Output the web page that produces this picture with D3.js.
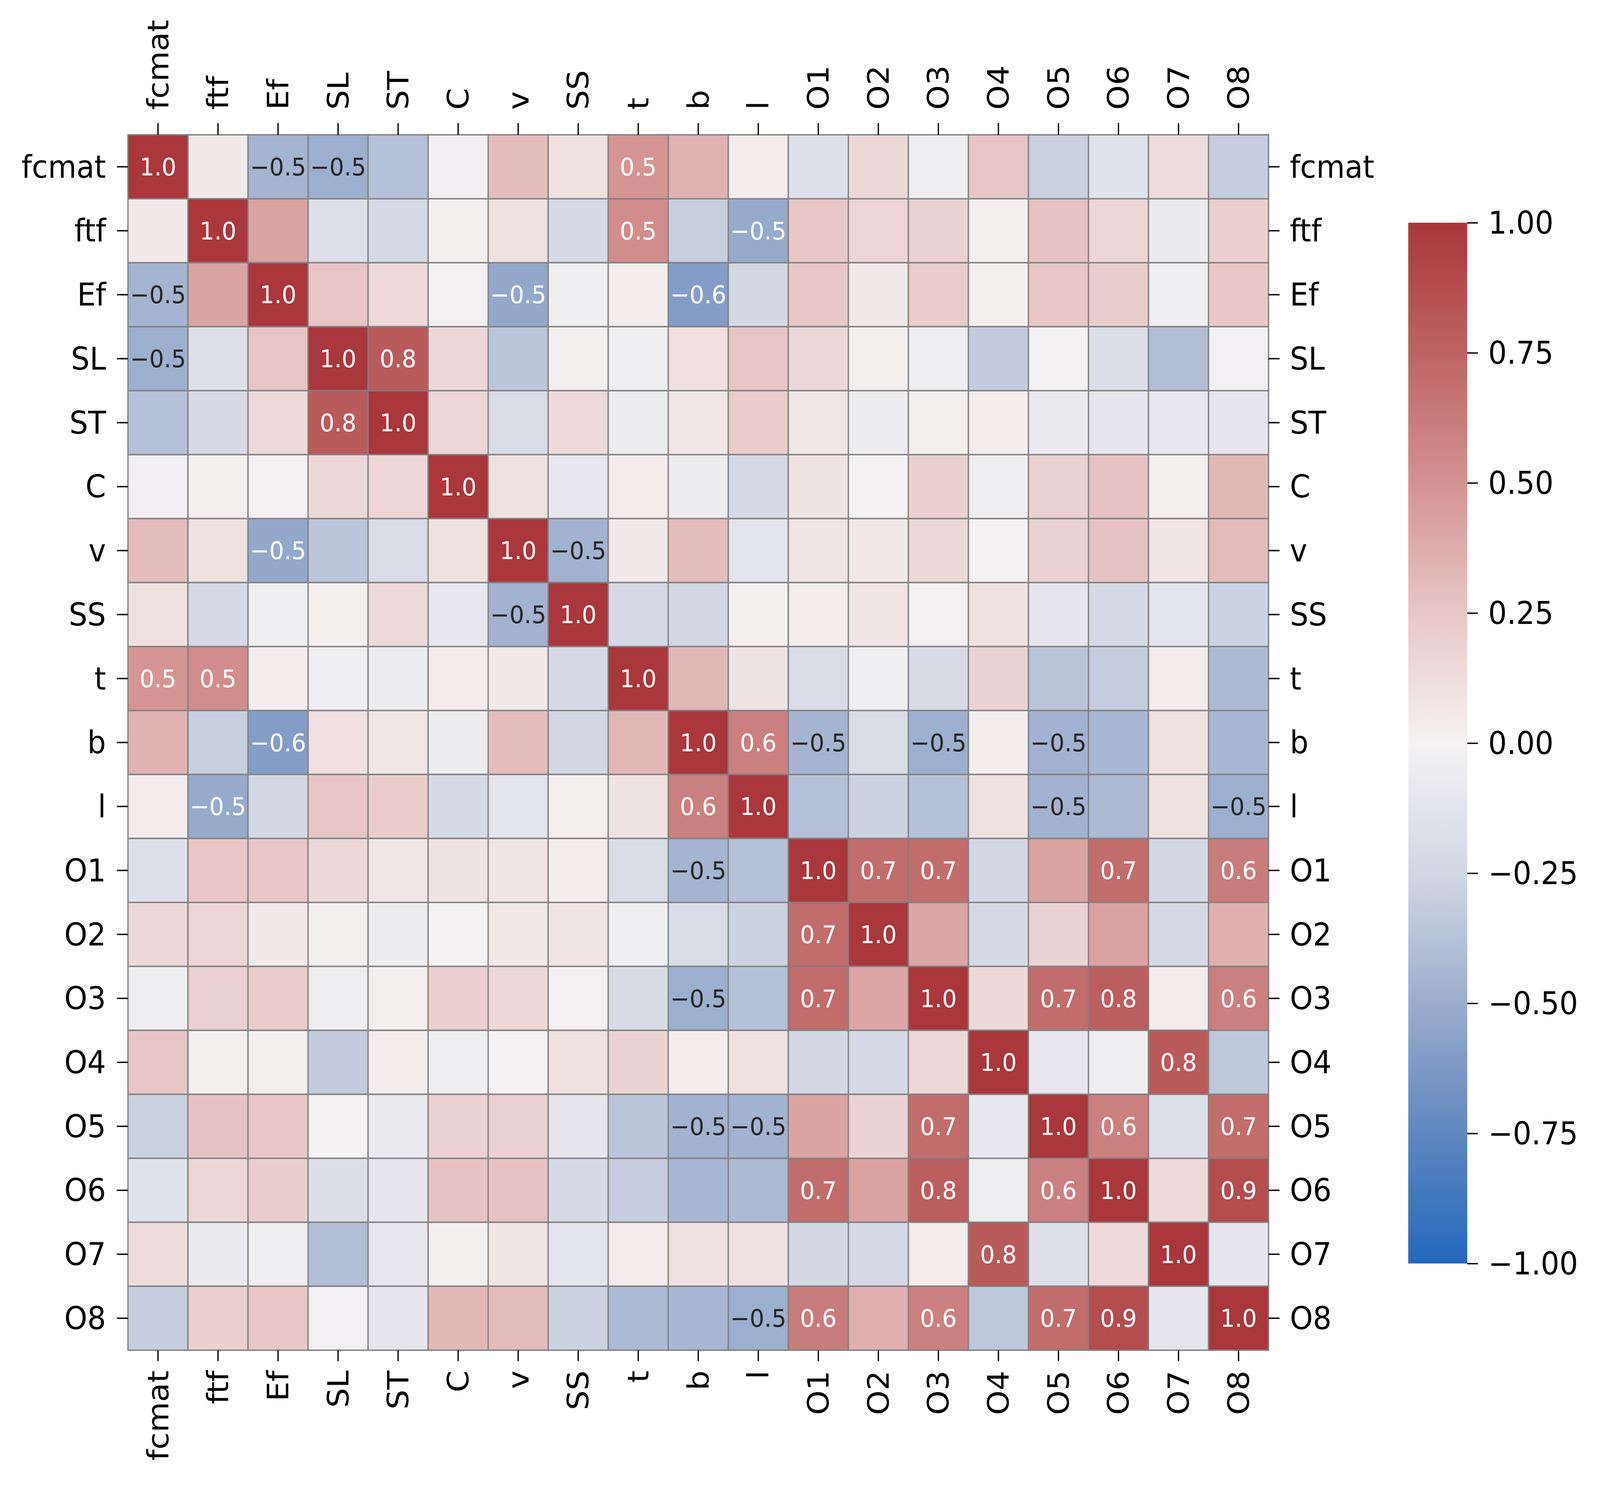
<!DOCTYPE html>
<html>
<head>
<meta charset="utf-8">
<script src="https://cdn.jsdelivr.net/npm/d3@7"></script>
<style>
  html, body { margin: 0; padding: 0; background: #ffffff; width: 100%; height: 100%; overflow: hidden; }
  svg { display: block; width: 100vw; height: 100vh; }
  text { font-family: "DejaVu Sans", sans-serif; }
</style>
</head>
<body>
<svg id="chart" viewBox="0 0 4364 3801" preserveAspectRatio="none"></svg>
<script>
// ---------- DATA ----------
const labels = ["fcmat","ftf","Ef","SL","ST","C","v","SS","t","b","l","O1","O2","O3","O4","O5","O6","O7","O8"];

// Upper triangle of the correlation matrix: values to the right of the diagonal, row by row
const upper_fcmat = [0.05,-0.46,-0.49,-0.38,-0.03,0.30,0.10,0.49,0.35,0.04,-0.17,0.15,-0.05,0.26,-0.29,-0.15,0.13,-0.31];
const upper_ftf   = [0.42,-0.17,-0.22,0.02,0.10,-0.22,0.53,-0.30,-0.52,0.25,0.17,0.19,0.02,0.27,0.16,-0.07,0.20];
const upper_Ef    = [0.26,0.14,0.01,-0.53,-0.04,0.03,-0.60,-0.24,0.25,0.05,0.22,0.02,0.25,0.21,-0.04,0.25];
const upper_SL    = [0.80,0.15,-0.35,0.02,-0.04,0.11,0.26,0.15,0.02,-0.05,-0.32,-0.01,-0.18,-0.40,-0.02];
const upper_ST    = [0.17,-0.20,0.14,-0.06,0.07,0.22,0.07,-0.06,0.02,0.03,-0.07,-0.11,-0.10,-0.11];
const upper_C     = [0.10,-0.10,0.04,-0.06,-0.22,0.09,0.00,0.20,-0.05,0.19,0.27,0.02,0.32];
const upper_v     = [-0.47,0.05,0.30,-0.12,0.08,0.06,0.15,0.00,0.19,0.27,0.08,0.31];
const upper_SS    = [-0.23,-0.25,0.02,0.03,0.08,0.01,0.10,-0.11,-0.22,-0.12,-0.28];
const upper_t     = [0.32,0.09,-0.20,-0.04,-0.21,0.18,-0.36,-0.31,0.04,-0.42];
const upper_b     = [0.60,-0.46,-0.20,-0.49,0.03,-0.47,-0.44,0.10,-0.44];
const upper_l     = [-0.38,-0.28,-0.38,0.10,-0.47,-0.42,0.10,-0.49];
const upper_O1    = [0.70,0.70,-0.24,0.42,0.70,-0.24,0.62];
const upper_O2    = [0.41,-0.23,0.18,0.43,-0.23,0.36];
const upper_O3    = [0.15,0.70,0.78,0.04,0.60];
const upper_O4    = [-0.10,-0.05,0.80,-0.34];
const upper_O5    = [0.60,-0.17,0.70];
const upper_O6    = [0.14,0.88];
const upper_O7    = [-0.11];
const upper_O8    = [];
const diagonalValue = 1.0;

const colorbarTicks = [-1,-0.75,-0.5,-0.25,0,0.25,0.5,0.75,1];

// ---------- BUILD MATRIX ----------
const upperRows = [upper_fcmat,upper_ftf,upper_Ef,upper_SL,upper_ST,upper_C,upper_v,upper_SS,upper_t,
  upper_b,upper_l,upper_O1,upper_O2,upper_O3,upper_O4,upper_O5,upper_O6,upper_O7,upper_O8];
const n = labels.length;
const M = Array.from({length:n}, () => new Array(n).fill(0));
for (let i = 0; i < n; i++) {
  M[i][i] = diagonalValue;
  upperRows[i].forEach((val, k) => { const j = i + 1 + k; M[i][j] = val; M[j][i] = val; });
}
const cells = [];
for (let i = 0; i < n; i++) for (let j = 0; j < n; j++) cells.push({row: labels[i], col: labels[j], value: M[i][j]});

// ---------- LAYOUT ----------
const svg = d3.select("#chart");
const x0 = 349, y0 = 345, size = 3111;
const fontSize = 80, annotSize = 63;
const x = d3.scaleBand().domain(labels).range([x0, x0 + size]);
const y = d3.scaleBand().domain(labels).range([y0, y0 + size]);

// vlag-like diverging colormap
const color = d3.scaleLinear()
  .domain([-1,-0.75,-0.5,-0.25,0,0.25,0.5,0.75,1])
  .range(["rgb(35,105,189)","rgb(96,134,190)","rgb(155,173,205)","rgb(210,215,228)","rgb(245,242,243)",
          "rgb(232,199,198)","rgb(211,147,146)","rgb(189,100,99)","rgb(169,55,59)"])
  .interpolate(d3.interpolateRgb)
  .clamp(true);

function relLum(c) {
  const rgb = d3.rgb(c);
  const f = v => { v /= 255; return v <= 0.03928 ? v / 12.92 : Math.pow((v + 0.055) / 1.055, 2.4); };
  return 0.2126 * f(rgb.r) + 0.7152 * f(rgb.g) + 0.0722 * f(rgb.b);
}

// ---------- CELLS ----------
svg.append("g").selectAll("rect").data(cells).join("rect")
  .attr("x", d => x(d.col)).attr("y", d => y(d.row))
  .attr("width", x.bandwidth()).attr("height", y.bandwidth())
  .attr("fill", d => color(d.value))
  .attr("stroke", "#808080").attr("stroke-width", 3.5);

// ---------- ANNOTATIONS ----------
const fmt = d3.format(".1f");
svg.append("g").selectAll("text").data(cells.filter(d => Math.abs(d.value) >= 0.45)).join("text")
  .attr("x", d => x(d.col) + x.bandwidth() / 2)
  .attr("y", d => y(d.row) + y.bandwidth() / 2)
  .attr("text-anchor", "middle")
  .attr("dominant-baseline", "central")
  .attr("font-size", annotSize)
  .attr("fill", d => relLum(color(d.value)) > 0.408 ? "#262626" : "#ffffff")
  .text(d => fmt(d.value));

// ---------- AXES ----------
function styleAxis(g) {
  g.select(".domain").remove();
  g.selectAll(".tick line").attr("stroke", "#000").attr("stroke-width", 3.5);
  g.selectAll(".tick text").attr("font-size", fontSize).attr("fill", "#000")
    .attr("font-family", "DejaVu Sans, sans-serif");
}
svg.append("g").attr("transform", `translate(${x0},0)`)
  .call(d3.axisLeft(y).tickSize(30).tickPadding(30))
  .call(styleAxis)
  .call(g => g.selectAll(".tick text").attr("dy", null).attr("dominant-baseline", "central"));

svg.append("g").attr("transform", `translate(${x0 + size},0)`)
  .call(d3.axisRight(y).tickSize(30).tickPadding(28))
  .call(styleAxis)
  .call(g => g.selectAll(".tick text").attr("dy", null).attr("dominant-baseline", "central"));

svg.append("g").attr("transform", `translate(0,${y0})`)
  .call(d3.axisTop(x).tickSize(30))
  .call(styleAxis)
  .call(g => g.selectAll(".tick text")
    .attr("transform", "rotate(-90)").attr("x", 64).attr("y", 0).attr("dy", null)
    .attr("text-anchor", "start").attr("dominant-baseline", "central"));

svg.append("g").attr("transform", `translate(0,${y0 + size})`)
  .call(d3.axisBottom(x).tickSize(28))
  .call(styleAxis)
  .call(g => g.selectAll(".tick text")
    .attr("transform", "rotate(-90)").attr("x", -52).attr("y", 0).attr("dy", null)
    .attr("text-anchor", "end").attr("dominant-baseline", "central"));

// ---------- COLORBAR ----------
const cbX = 3841, cbW = 161, cbTop = 570, cbBottom = 3234;
const cb = d3.scaleLinear().domain([-1, 1]).range([cbBottom, cbTop]);
const defs = svg.append("defs");
const grad = defs.append("linearGradient").attr("id", "cbgrad")
  .attr("x1", 0).attr("y1", 1).attr("x2", 0).attr("y2", 0);
const nStops = 101;
grad.selectAll("stop").data(d3.range(nStops)).join("stop")
  .attr("offset", i => i / (nStops - 1))
  .attr("stop-color", i => color(-1 + 2 * i / (nStops - 1)));
svg.append("rect").attr("x", cbX).attr("y", cbTop).attr("width", cbW).attr("height", cbBottom - cbTop)
  .attr("fill", "url(#cbgrad)");
svg.append("g").attr("transform", `translate(${cbX + cbW},0)`)
  .call(d3.axisRight(cb).tickValues(colorbarTicks).tickFormat(d3.format(".2f")).tickSize(29).tickPadding(28))
  .call(styleAxis)
  .call(g => g.selectAll(".tick text").attr("dy", null).attr("dominant-baseline", "central"));
</script>
</body>
</html>
